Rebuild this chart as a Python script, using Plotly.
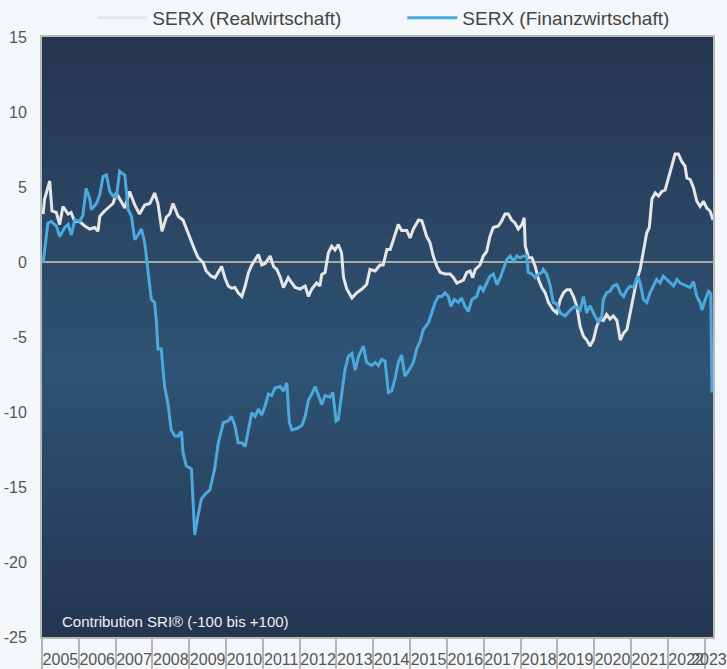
import plotly.graph_objects as go

# SERX Realwirtschaft (weiss)
real_x = [2005.03, 2005.07, 2005.21, 2005.27, 2005.39, 2005.48, 2005.57, 2005.71, 2005.79, 2005.89,
          2006.02, 2006.16, 2006.30, 2006.43, 2006.52, 2006.57, 2006.70, 2006.79, 2006.93, 2007.02,
          2007.11, 2007.25, 2007.38, 2007.52, 2007.65, 2007.79, 2007.93, 2008.06, 2008.15, 2008.26,
          2008.38, 2008.47, 2008.56, 2008.70, 2008.83, 2008.92, 2009.01, 2009.15, 2009.24, 2009.38,
          2009.46, 2009.60, 2009.70, 2009.88, 2009.97, 2010.06, 2010.15, 2010.24, 2010.33, 2010.43,
          2010.52, 2010.61, 2010.70, 2010.79, 2010.88, 2010.97, 2011.06, 2011.20, 2011.29, 2011.38,
          2011.47, 2011.56, 2011.69, 2011.79, 2011.88, 2012.01, 2012.15, 2012.24, 2012.33, 2012.46,
          2012.55, 2012.60, 2012.69, 2012.78, 2012.87, 2012.96, 2013.05, 2013.14, 2013.19, 2013.28,
          2013.42, 2013.55, 2013.69, 2013.82, 2013.91, 2014.05, 2014.18, 2014.27, 2014.37, 2014.46,
          2014.55, 2014.68, 2014.77, 2014.91, 2015.00, 2015.09, 2015.23, 2015.32, 2015.45, 2015.54,
          2015.63, 2015.73, 2015.82, 2015.95, 2016.09, 2016.18, 2016.27, 2016.36, 2016.45, 2016.54,
          2016.63, 2016.70, 2016.77, 2016.90, 2016.99, 2017.08, 2017.17, 2017.26, 2017.40, 2017.49,
          2017.58, 2017.67, 2017.76, 2017.85, 2017.94, 2018.04, 2018.10, 2018.13, 2018.22, 2018.31,
          2018.40, 2018.49, 2018.58, 2018.67, 2018.76, 2018.89, 2018.99, 2019.08, 2019.17, 2019.26,
          2019.35, 2019.44, 2019.53, 2019.62, 2019.71, 2019.80, 2019.89, 2019.98, 2020.07, 2020.16,
          2020.25, 2020.34, 2020.43, 2020.52, 2020.62, 2020.71, 2020.80, 2020.89, 2020.98, 2021.07,
          2021.16, 2021.25, 2021.34, 2021.43, 2021.50, 2021.57, 2021.66, 2021.75, 2021.84, 2021.93,
          2022.02, 2022.11, 2022.20, 2022.29, 2022.38, 2022.47, 2022.52, 2022.61, 2022.70, 2022.79,
          2022.88, 2022.97, 2023.06, 2023.15, 2023.23]
real_y = [3.2, 4.2, 5.4, 3.4, 3.3, 2.5, 3.7, 3.2, 3.3, 2.7,
          2.7, 2.4, 2.2, 2.3, 2.05, 3.05, 3.4, 3.6, 3.9, 4.6,
          4.2, 3.6, 4.7, 3.8, 3.2, 3.8, 3.9, 4.6, 3.9, 2.05,
          3.0, 3.2, 3.9, 3.05, 2.8, 2.2, 1.6, 0.8, 0.3, -0.05,
          -0.6, -0.95, -1.05, -0.3, -1.05, -1.6, -1.75, -1.7, -2.05, -2.3,
          -1.6, -0.7, -0.2, 0.17, 0.5, -0.2, -0.1, 0.4, -0.3, -0.5,
          -1.0, -1.7, -1.05, -1.4, -1.7, -1.8, -1.6, -2.3, -1.8, -1.4,
          -1.6, -0.83, -0.7, 0.6, 1.05, 0.8, 1.17, 0.6, -1.0, -1.8,
          -2.4, -2.05, -1.8, -1.5, -0.5, -0.6, -0.2, -0.2, 0.83, 0.83,
          1.5, 2.5, 2.1, 2.1, 1.6, 2.2, 2.8, 2.75, 1.7, 1.3,
          0.4, -0.3, -0.7, -0.8, -0.8, -1.05, -1.4, -1.3, -1.2, -0.7,
          -0.6, -1.05, -0.5, -0.2, 0.4, 0.7, 1.7, 2.3, 2.4, 2.75,
          3.2, 3.2, 2.8, 2.6, 2.2, 2.5, 2.95, 1.05, 0.28, 0.28,
          -0.3, -1.17, -1.7, -2.05, -2.7, -3.2, -3.4, -2.5, -2.05, -1.85,
          -1.85, -2.3, -2.95, -4.3, -4.95, -5.2, -5.6, -5.2, -4.3, -3.8,
          -3.9, -3.5, -3.8, -3.6, -3.9, -5.2, -4.75, -4.5, -3.4, -2.3,
          -1.17, -0.5, 0.6, 1.95, 2.3, 4.2, 4.6, 4.4, 4.7, 4.8,
          5.6, 6.5, 7.2, 7.2, 6.7, 6.4, 5.6, 5.5, 4.95, 4.05,
          3.7, 4.05, 3.6, 3.4, 2.8]

# SERX Finanzwirtschaft (blau)
fin_x = [2005.03, 2005.07, 2005.16, 2005.25, 2005.39, 2005.48, 2005.62, 2005.71, 2005.80, 2005.89,
         2006.02, 2006.11, 2006.20, 2006.30, 2006.34, 2006.48, 2006.57, 2006.66, 2006.75, 2006.84,
         2006.93, 2007.02, 2007.11, 2007.25, 2007.29, 2007.34, 2007.43, 2007.52, 2007.61, 2007.70,
         2007.79, 2007.88, 2007.97, 2008.06, 2008.11, 2008.15, 2008.24, 2008.33, 2008.42, 2008.51,
         2008.61, 2008.70, 2008.79, 2008.83, 2008.92, 2009.06, 2009.10, 2009.15, 2009.24, 2009.33,
         2009.42, 2009.56, 2009.69, 2009.79, 2009.93, 2010.06, 2010.15, 2010.24, 2010.33, 2010.43,
         2010.52, 2010.61, 2010.70, 2010.79, 2010.88, 2010.97, 2011.06, 2011.15, 2011.24, 2011.33,
         2011.47, 2011.56, 2011.65, 2011.72, 2011.79, 2011.92, 2012.06, 2012.15, 2012.24, 2012.33,
         2012.42, 2012.51, 2012.60, 2012.69, 2012.83, 2012.90, 2012.99, 2013.05, 2013.14, 2013.23,
         2013.32, 2013.42, 2013.51, 2013.60, 2013.73, 2013.82, 2013.96, 2014.05, 2014.14, 2014.23,
         2014.32, 2014.41, 2014.50, 2014.59, 2014.68, 2014.77, 2014.86, 2014.95, 2015.09, 2015.18,
         2015.27, 2015.36, 2015.50, 2015.59, 2015.68, 2015.77, 2015.86, 2015.95, 2016.04, 2016.11,
         2016.20, 2016.31, 2016.40, 2016.49, 2016.58, 2016.68, 2016.81, 2016.90, 2016.99, 2017.08,
         2017.17, 2017.26, 2017.36, 2017.45, 2017.54, 2017.63, 2017.72, 2017.81, 2017.90, 2017.99,
         2018.08, 2018.17, 2018.21, 2018.31, 2018.40, 2018.49, 2018.58, 2018.62, 2018.71, 2018.80,
         2018.89, 2018.99, 2019.08, 2019.21, 2019.35, 2019.48, 2019.62, 2019.71, 2019.80, 2019.89,
         2019.98, 2020.12, 2020.21, 2020.25, 2020.34, 2020.43, 2020.52, 2020.62, 2020.71, 2020.80,
         2020.89, 2020.98, 2021.07, 2021.18, 2021.25, 2021.34, 2021.43, 2021.52, 2021.61, 2021.70,
         2021.79, 2021.88, 2021.98, 2022.07, 2022.16, 2022.25, 2022.34, 2022.43, 2022.52, 2022.61,
         2022.70, 2022.79, 2022.88, 2022.93, 2023.02, 2023.11, 2023.17, 2023.20]
fin_y = [-0.05, 0.8, 2.6, 2.7, 2.4, 1.7, 2.3, 2.5, 1.8, 2.8,
         2.7, 3.1, 4.9, 4.2, 3.5, 3.9, 4.5, 5.7, 5.8, 4.7,
         4.4, 4.3, 6.05, 5.8, 4.6, 3.5, 3.05, 1.5, 1.8, 2.2,
         1.3, -0.7, -2.5, -2.7, -4.05, -5.8, -5.8, -8.3, -9.4, -11.2,
         -11.6, -11.6, -11.3, -12.7, -13.6, -13.8, -15.8, -18.2, -16.9, -15.8,
         -15.5, -15.2, -13.8, -12.05, -10.7, -10.6, -10.3, -10.9, -12.05, -12.05,
         -12.3, -11.1, -10.05, -10.3, -9.8, -10.2, -9.6, -8.8, -8.9, -8.4,
         -8.3, -8.6, -8.05, -10.7, -11.2, -11.1, -10.9, -10.3, -9.2, -8.8,
         -8.3, -8.9, -9.5, -8.9, -9.0, -8.7, -10.6, -10.5, -8.7, -7.2,
         -6.3, -6.1, -7.2, -6.3, -5.6, -6.7, -6.9, -6.7, -6.9, -6.5,
         -6.6, -8.7, -8.6, -7.8, -6.7, -6.2, -7.6, -7.3, -6.7, -5.8,
         -5.3, -4.5, -4.05, -3.4, -2.7, -2.3, -2.3, -2.05, -2.3, -2.95,
         -2.5, -2.7, -2.4, -2.95, -3.3, -2.5, -2.3, -1.6, -1.9, -1.4,
         -0.95, -0.8, -1.5, -1.05, -0.5, 0.17, 0.4, 0.05, 0.4, 0.28,
         0.4, 0.4, -0.7, -0.8, -1.05, -0.8, -0.7, -0.5, -0.8, -1.5,
         -2.7, -2.8, -3.4, -3.6, -3.2, -2.95, -3.2, -2.3, -3.4, -2.9,
         -3.4, -4.05, -3.6, -2.5, -2.05, -1.95, -1.6, -1.5, -2.05, -2.3,
         -1.85, -1.6, -1.7, -0.95, -1.4, -2.5, -2.7, -2.05, -1.6, -1.17,
         -1.4, -0.95, -1.17, -1.4, -1.6, -1.17, -1.4, -1.5, -1.6, -1.7,
         -1.3, -2.3, -2.7, -3.2, -2.5, -1.95, -2.1, -8.7]

years = list(range(2005, 2024))
year_labels = [str(y) for y in years]
label_pos = [y + 0.5 for y in years[:-1]] + [2023.12]

y_ticks = [-25, -20, -15, -10, -5, 0, 5, 10, 15]
y_labels = ['-25', '-20', '-15', '-10', '-5', '0', '5', '10', '15']

fig = go.Figure()
fig.add_trace(go.Scatter(x=real_x, y=real_y, mode='lines', name='SERX (Realwirtschaft)',
                         line=dict(color='#e6e6e6', width=3)))
fig.add_trace(go.Scatter(x=fin_x, y=fin_y, mode='lines', name='SERX (Finanzwirtschaft)',
                         line=dict(color='#4ba9dd', width=3)))

# Farbverlauf im Plotbereich (dunkel oben/unten, heller in der Mitte)
top = (37, 53, 79)
mid = (47, 84, 117)
bot = (37, 54, 80)
n = 60
shapes = []
for i in range(n):
    f = (i + 0.5) / n  # 0 unten, 1 oben
    if f < 0.45:
        t = f / 0.45
        c = [bot[k] + (mid[k] - bot[k]) * t for k in range(3)]
    else:
        t = (f - 0.45) / 0.55
        c = [mid[k] + (top[k] - mid[k]) * t for k in range(3)]
    shapes.append(dict(type='rect', xref='paper', yref='paper', x0=0, x1=1,
                       y0=i / n, y1=(i + 1) / n + 0.002, line=dict(width=0),
                       fillcolor='rgb(%d,%d,%d)' % tuple(int(v) for v in c), layer='below'))

fig.update_layout(
    width=727, height=669,
    margin=dict(l=42, r=14, t=37, b=32, autoexpand=False),
    paper_bgcolor='#f4f7fa',
    plot_bgcolor='#26364f',
    font=dict(family='Liberation Sans, Arial, sans-serif', size=16, color='#555555'),
    showlegend=True,
    legend=dict(orientation='h', x=0.075, xanchor='left', y=1.0, yanchor='bottom',
                font=dict(size=19, color='#444444'), itemwidth=50, entrywidth=245,
                bgcolor='rgba(0,0,0,0)'),
    shapes=shapes,
    annotations=[dict(text='Contribution SRI® (-100 bis +100)', xref='paper', yref='paper',
                      x=0.027, y=0.026, xanchor='left', yanchor='middle', showarrow=False,
                      font=dict(size=15, color='#f0f0f0'))],
    xaxis=dict(range=[2005, 2023.23], tickmode='array', tickvals=label_pos, ticktext=year_labels,
               tickangle=0, automargin=False, ticklabeloverflow='allow',
               ticks='outside', ticklen=7, tickcolor='rgba(0,0,0,0)', showgrid=False,
               zeroline=False, showline=True, linecolor='#b8b8b8', linewidth=2, mirror=True,
               tickfont=dict(size=16, color='#555555'),
               minor=dict(tickmode='array', tickvals=years, ticks='outside', ticklen=32,
                          tickcolor='#b4b4b4', tickwidth=2, showgrid=False)),
    yaxis=dict(range=[-25, 15], tickmode='array', tickvals=y_ticks, ticktext=y_labels,
               showgrid=False, automargin=False,
               ticks='outside', ticklen=10, tickcolor='rgba(0,0,0,0)',
               zeroline=True, zerolinecolor='#a8a8a8', zerolinewidth=2,
               showline=True, linecolor='#b8b8b8', linewidth=2, mirror=True,
               tickfont=dict(size=16, color='#555555')),
)

# Browser-Standardrand der Seite entfernen, damit die Figur bei 0,0 beginnt
fig.write_html('out.html', config={'displayModeBar': False},
               post_script="document.body.style.margin='0';")
